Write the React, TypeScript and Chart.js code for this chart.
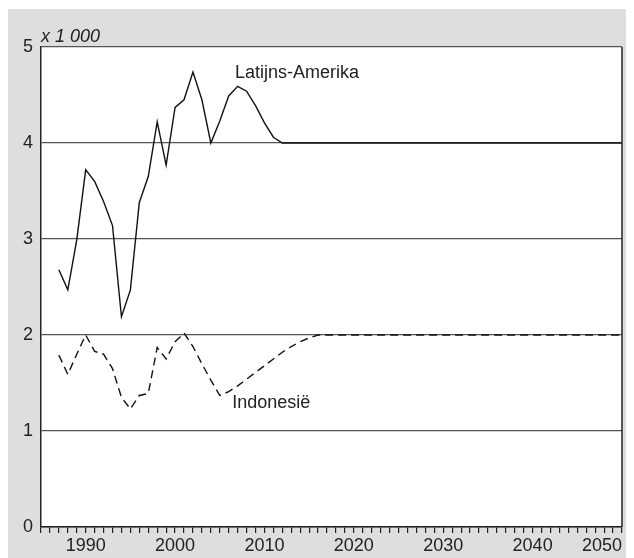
import { useEffect, useRef } from 'react';
import { Chart, registerables } from 'chart.js';

Chart.register(...registerables);

// Latin America (x 1 000)
const latamYears = [1987, 1988, 1989, 1990, 1991, 1992, 1993, 1994, 1995, 1996, 1997, 1998, 1999, 2000, 2001, 2002, 2003, 2004, 2005, 2006, 2007, 2008, 2009, 2010, 2011, 2012, 2050];
const latamValues = [2.68, 2.47, 2.99, 3.72, 3.60, 3.39, 3.14, 2.19, 2.47, 3.38, 3.65, 4.22, 3.77, 4.37, 4.45, 4.74, 4.45, 4.00, 4.23, 4.49, 4.59, 4.54, 4.39, 4.21, 4.06, 4.00, 4.00];

// Indonesia (x 1 000)
const indoYears = [1987, 1988, 1989, 1990, 1991, 1992, 1993, 1994, 1995, 1996, 1997, 1998, 1999, 2000, 2001, 2002, 2003, 2004, 2005, 2006, 2007, 2008, 2009, 2010, 2011, 2012, 2013, 2014, 2015, 2016, 2050];
const indoValues = [1.79, 1.59, 1.80, 2.00, 1.83, 1.80, 1.65, 1.35, 1.23, 1.37, 1.39, 1.87, 1.75, 1.93, 2.02, 1.88, 1.70, 1.53, 1.37, 1.41, 1.47, 1.54, 1.61, 1.68, 1.75, 1.82, 1.88, 1.93, 1.97, 2.00, 2.00];

const yTicks = [0, 1, 2, 3, 4, 5];
const xLabelYears = [1990, 2000, 2010, 2020, 2030, 2040, 2050];
const unitLabel = 'x 1 000';
const seriesLabels = [
  { text: 'Latijns-Amerika', year: 2006.7, value: 4.68 },
  { text: 'Indonesië', year: 2006.4, value: 1.24 },
];

const FONT = 'Arial, "Liberation Sans", Helvetica, sans-serif';

const framePlugin = {
  id: 'frame',
  beforeDraw(chart: any) {
    const { ctx, chartArea } = chart;
    ctx.save();
    ctx.fillStyle = '#ffffff';
    ctx.fillRect(chartArea.left, chartArea.top, chartArea.right - chartArea.left, chartArea.bottom - chartArea.top);
    ctx.restore();
  },
  afterDraw(chart: any) {
    const { ctx, chartArea, scales } = chart;
    ctx.save();
    ctx.strokeStyle = '#222';
    ctx.lineWidth = 1.5;
    ctx.beginPath();
    ctx.moveTo(chartArea.right, chartArea.top);
    ctx.lineTo(chartArea.right, chartArea.bottom);
    ctx.stroke();
    ctx.fillStyle = '#222';
    ctx.font = 'italic 18px ' + FONT;
    ctx.textBaseline = 'alphabetic';
    ctx.textAlign = 'left';
    ctx.fillText(unitLabel, chartArea.left, chartArea.top - 5);
    ctx.font = '18px ' + FONT;
    for (const l of seriesLabels) {
      ctx.fillText(l.text, scales.x.getPixelForValue(l.year), scales.y.getPixelForValue(l.value));
    }
    ctx.restore();
  },
};

export default function App() {
  const ref = useRef<HTMLCanvasElement | null>(null);
  useEffect(() => {
    if (!ref.current) return;
    const chart = new Chart(ref.current, {
      type: 'line',
      data: {
        datasets: [
          {
            label: 'Latijns-Amerika',
            data: latamYears.map((y, i) => ({ x: y, y: latamValues[i] })),
            borderColor: '#111',
            borderWidth: 1.4,
            pointRadius: 0,
            tension: 0,
            fill: false,
          },
          {
            label: 'Indonesië',
            data: indoYears.map((y, i) => ({ x: y, y: indoValues[i] })),
            borderColor: '#111',
            borderWidth: 1.4,
            borderDash: [8, 5],
            pointRadius: 0,
            tension: 0,
            fill: false,
          },
        ],
      },
      options: {
        animation: false,
        responsive: false,
        maintainAspectRatio: false,
        layout: { padding: { left: 0, top: 38, right: 12, bottom: 0 } },
        plugins: { legend: { display: false }, tooltip: { enabled: false }, title: { display: false } },
        scales: {
          x: {
            type: 'linear',
            min: 1985,
            max: 2050,
            afterBuildTicks: (scale: any) => {
              const t = [];
              for (let v = 1985; v <= 2050; v++) t.push({ value: v });
              scale.ticks = t;
            },
            ticks: {
              autoSkip: false,
              maxRotation: 0,
              align: 'inner',
              padding: 2,
              color: '#222',
              font: { size: 18, family: FONT },
              callback: (v: any) => (xLabelYears.includes(Number(v)) ? String(v) : ''),
            },
            grid: { drawOnChartArea: false, drawTicks: true, tickLength: 6, color: '#222', lineWidth: 1.2 },
            border: { display: true, color: '#222', width: 1.5 },
            afterFit: (scale: any) => {
              scale.height = 31;
              scale.paddingLeft = 0;
              scale.paddingRight = 0;
            },
          },
          y: {
            min: 0,
            max: 5,
            afterBuildTicks: (scale: any) => {
              scale.ticks = yTicks.map((v) => ({ value: v }));
            },
            ticks: { color: '#222', padding: 8, font: { size: 18, family: FONT } },
            grid: { drawTicks: false, color: '#555', lineWidth: 1.3 },
            border: { display: true, color: '#222', width: 1.5 },
            afterFit: (scale: any) => {
              scale.width = 33;
            },
          },
        },
      },
      plugins: [framePlugin],
    });
    return () => chart.destroy();
  }, []);
  return (
    <div style={{ background: '#dedede', borderTop: '1px solid #fff', width: 626, height: 549 }}>
      <canvas ref={ref} width={626} height={549} style={{ display: 'block', width: 626, height: 549 }} />
    </div>
  );
}
